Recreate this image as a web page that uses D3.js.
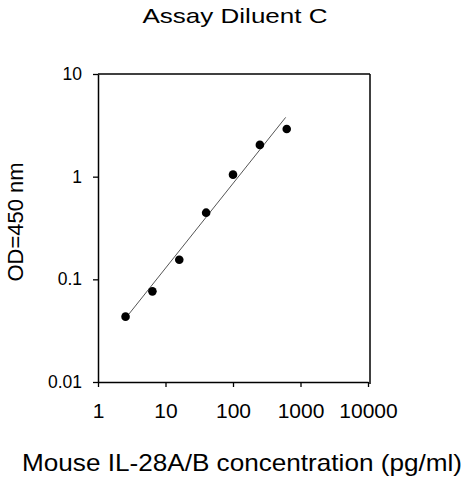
<!DOCTYPE html>
<html>
<head>
<meta charset="utf-8">
<script src="https://cdn.jsdelivr.net/npm/d3@7"></script>
<style>
  body { margin: 0; background: #fff; }
  text { font-family: "Liberation Sans", Arial, sans-serif; fill: #000; }
</style>
</head>
<body>
<div id="chart"></div>
<script>
// data
var concentration = [2.56, 6.4, 16, 40, 100, 250, 625];
var od = [0.0433, 0.0764, 0.155, 0.446, 1.046, 2.04, 2.91];
var fitX = [2.88, 603];
var fitY = [0.046, 3.78];
var xTicks = [1, 10, 100, 1000, 10000];
var yTicks = [0.01, 0.1, 1, 10];

// create the chart area
var svgwidth = 463;
var svgheight = 480;

var margin = {
  top: 74,
  right: 95,
  bottom: 98,
  left: 98
};

var width = svgwidth - margin.left - margin.right;
var height = svgheight - margin.top - margin.bottom;

var svg = d3.select("#chart").append("svg")
  .attr("width", svgwidth)
  .attr("height", svgheight);

var chartgroup = svg.append("g")
  .attr("transform", `translate(${margin.left}, ${margin.top})`);

// log scales
var xscale = d3.scaleLog()
  .domain([1, 10000])
  .range([0, width]);

var yscale = d3.scaleLog()
  .domain([0.01, 10])
  .range([height, 0]);

// axes
var xaxis = d3.axisBottom(xscale)
  .tickValues(xTicks)
  .tickFormat(d => String(d))
  .tickSize(5)
  .tickPadding(16)
  .tickSizeOuter(0);

var yaxis = d3.axisLeft(yscale)
  .tickValues(yTicks)
  .tickFormat(d => String(d))
  .tickSize(5)
  .tickPadding(11)
  .tickSizeOuter(0);

var xg = chartgroup.append("g")
  .attr("transform", `translate(0, ${height})`)
  .call(xaxis);

var yg = chartgroup.append("g")
  .call(yaxis);

[xg, yg].forEach(function(g) {
  g.select(".domain").attr("stroke", "#000").attr("stroke-width", 1.5);
  g.selectAll(".tick line").attr("stroke", "#000").attr("stroke-width", 1.3);
  g.selectAll("text").attr("font-family", "Liberation Sans, Arial, sans-serif").attr("fill", "#000");
});

xg.selectAll("text").attr("font-size", "21px");
yg.selectAll("text").attr("font-size", "17.5px");

// top and right frame lines
chartgroup.append("line")
  .attr("x1", 0).attr("x2", width + 2)
  .attr("y1", 0).attr("y2", 0)
  .attr("stroke", "#000").attr("stroke-width", 1.5);

chartgroup.append("line")
  .attr("x1", width + 2).attr("x2", width + 2)
  .attr("y1", 0).attr("y2", height + 2)
  .attr("stroke", "#000").attr("stroke-width", 1.5);

// fit line
chartgroup.append("line")
  .attr("x1", xscale(fitX[0]))
  .attr("y1", yscale(fitY[0]))
  .attr("x2", xscale(fitX[1]))
  .attr("y2", yscale(fitY[1]))
  .attr("stroke", "#555")
  .attr("stroke-width", 1);

// points
chartgroup.selectAll("circle")
  .data(concentration)
  .enter()
  .append("circle")
  .attr("cx", d => xscale(d))
  .attr("cy", (d, i) => yscale(od[i]))
  .attr("r", 4.3)
  .attr("fill", "#000");

// title
svg.append("text")
  .attr("x", 235)
  .attr("y", 23)
  .attr("text-anchor", "middle")
  .attr("font-size", "21px")
  .attr("textLength", 185)
  .attr("lengthAdjust", "spacingAndGlyphs")
  .text("Assay Diluent C");

// axis labels
svg.append("text")
  .attr("transform", "translate(23, 222) rotate(-90)")
  .attr("text-anchor", "middle")
  .attr("font-size", "22px")
  .text("OD=450 nm");

svg.append("text")
  .attr("x", 242)
  .attr("y", 471)
  .attr("text-anchor", "middle")
  .attr("font-size", "24px")
  .attr("textLength", 440)
  .attr("lengthAdjust", "spacingAndGlyphs")
  .text("Mouse IL-28A/B concentration (pg/ml)");
</script>
</body>
</html>
